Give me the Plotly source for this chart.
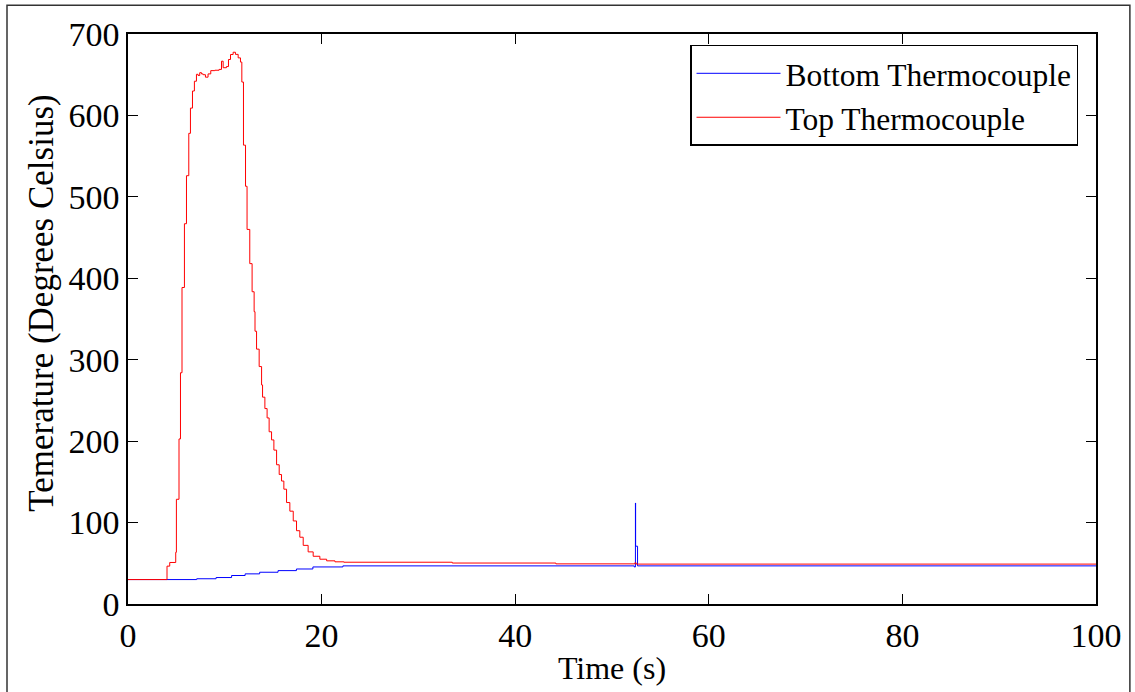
import plotly.graph_objects as go

# ---- data ----
top_t = [0, 4.03, 4.31, 4.93, 5.0, 5.27, 5.42, 5.58, 5.83, 6.04, 6.28, 6.45, 6.66, 6.86,
         7.07, 7.24, 7.41, 7.59, 7.76, 8.0, 8.27, 8.55, 8.97, 9.41, 9.66, 9.83, 10.17,
         10.38, 10.59, 10.86, 11.1, 11.38, 11.62, 11.76, 11.93, 12.14, 12.3, 12.58,
         12.82, 13.03, 13.12, 13.28, 13.55, 13.8, 13.9, 14.14, 14.37, 14.58, 14.83,
         15.07, 15.35, 15.62, 15.86, 16.1, 16.38, 16.72, 17.07, 17.41, 17.75, 18.1,
         18.61, 19.13, 19.82, 20.52, 21.38, 22.3, 33.5, 44.2, 52.35, 52.5, 52.7, 100]
top_y = [30, 46.5, 51, 63.5, 128.6, 202.7, 284, 388.7, 467, 526, 578, 609, 630, 642,
         650.5, 649, 652.5, 651, 650, 647, 651, 655, 655.5, 656.5, 666.6, 658.6, 660,
         668.7, 674.8, 677.6, 675, 670.7, 665.5, 641, 563.5, 513, 460, 418,
         383.5, 359, 335, 313, 291.6, 269, 254, 240, 228.5, 211.5, 201.5,
         189, 171, 159, 151, 141, 124.6, 114, 102, 90, 82, 72,
         64, 58.6, 55, 53, 51.8, 51.3, 50.3, 49.3, 50.5, 49.0, 49.0, 49.0]

bot_t = [0, 7.1, 9.1, 10.7, 12.1, 13.6, 15.5, 17.4, 19.1, 22.2, 52.3, 52.42, 52.44, 52.64, 100]
bot_y = [30, 31, 32.5, 35, 37, 39, 41, 43, 45.5, 46.8, 45.5, 124, 71, 46.8, 46.8]

x_ticks = [0, 20, 40, 60, 80, 100]
y_ticks = [0, 100, 200, 300, 400, 500, 600, 700]

x_title = "Time (s)"
y_title = "Temerature (Degrees Celsius)"

FONT = "Liberation Serif"

fig = go.Figure()
fig.add_trace(go.Scatter(x=bot_t, y=bot_y, mode="lines", line_shape="hv",
                         name="Bottom Thermocouple", line=dict(color="#0000FF", width=1)))
fig.add_trace(go.Scatter(x=top_t, y=top_y, mode="lines", line_shape="hv",
                         name="Top Thermocouple", line=dict(color="#FF0000", width=1)))

axis_common = dict(showgrid=False, zeroline=False, showline=True, linecolor="black",
                   linewidth=1.5, mirror="ticks", ticks="inside", ticklen=10,
                   tickwidth=1, tickcolor="black",
                   tickfont=dict(family=FONT, size=34, color="black"))

fig.update_xaxes(range=[0, 100], tickvals=x_ticks, ticktext=[str(v) for v in x_ticks],
                 title=dict(text=x_title, font=dict(family=FONT, size=32, color="black"),
                            standoff=4),
                 **axis_common)
fig.update_yaxes(range=[0, 700], tickvals=y_ticks, ticktext=[str(v) for v in y_ticks],
                 **axis_common)

fig.update_layout(
    width=1135, height=692, autosize=False,
    margin=dict(l=128, r=39, t=34, b=81),
    paper_bgcolor="white", plot_bgcolor="white",
    font=dict(family=FONT, color="black"),
    showlegend=True,
    legend=dict(x=0.5806, y=0.981, xanchor="left", yanchor="top",
                bgcolor="white", bordercolor="black", borderwidth=1.5,
                font=dict(family=FONT, size=31.5, color="black"),
                itemwidth=84),
    annotations=[dict(text=y_title, xref="paper", yref="paper",
                      x=-0.0888, y=0.527, xanchor="center", yanchor="middle",
                      textangle=-90, showarrow=False,
                      font=dict(family=FONT, size=35, color="black"))],
    shapes=[dict(type="rect", xref="paper", yref="paper",
                 x0=-0.125, x1=1.035, y0=-0.3, y1=1.0503,
                 line=dict(color="#333333", width=1.5), layer="below")],
)

fig.write_html("out.html")
